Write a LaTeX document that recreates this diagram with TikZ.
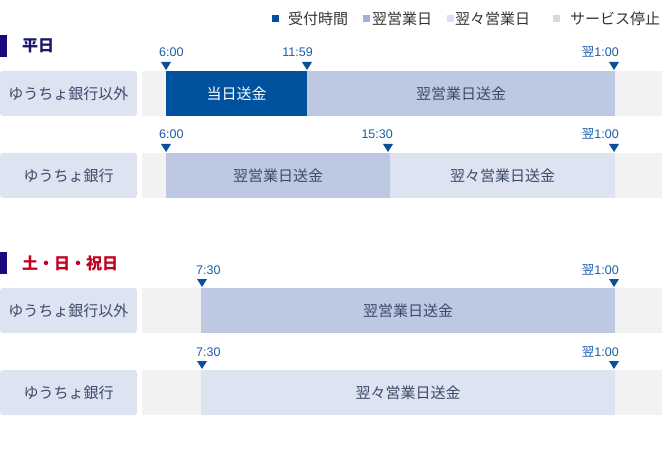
\documentclass[tikz,border=0pt]{standalone}
\usepackage{fontspec}
\setmainfont{Noto Sans CJK JP}
\newfontfamily\tnum{Liberation Sans}
\definecolor{accblue}{HTML}{00519E}
\definecolor{nextday}{HTML}{BDC8E2}
\definecolor{nextday2}{HTML}{DEE3F1}
\definecolor{bandgray}{HTML}{F2F2F2}
\definecolor{labfill}{HTML}{DDE3F1}
\definecolor{labtxt}{HTML}{3C4A6B}
\definecolor{markblue}{HTML}{0B4F9B}
\definecolor{timeblue}{HTML}{1C5BA5}
\definecolor{hdrbar}{HTML}{1A0A7E}
\definecolor{hdrnavy}{HTML}{1A1670}
\definecolor{hdrred}{HTML}{C0001E}
\definecolor{legtxt}{HTML}{333333}
\definecolor{legA}{HTML}{00519E}
\definecolor{legB}{HTML}{A3B1D9}
\definecolor{legC}{HTML}{DDE2F3}
\definecolor{legD}{HTML}{D9D9D9}
\tikzset{
  labbox/.style={fill=labfill, rounded corners=3pt},
  labtext/.style={text=labtxt, font=\fontsize{15}{18}\selectfont, inner sep=0pt},
  bartext/.style={text=labtxt, font=\fontsize{15}{18}\selectfont, inner sep=0pt},
  timetext/.style={text=timeblue, font=\fontsize{12.5}{14}\selectfont\tnum, inner sep=0pt},
  hdrtext/.style={font=\fontsize{16}{19}\selectfont\bfseries, inner sep=0pt, anchor=west},
  legtext/.style={text=legtxt, font=\fontsize{15}{18}\selectfont, inner sep=0pt, anchor=west},
}
\newcommand\tmark[2]{\fill[markblue] ({#1-5},{#2-9}) -- ({#1+5},{#2-9}) -- (#1,{#2-1}) -- cycle;}
\newcommand\yoku{{\fontsize{12.5}{14}\rmfamily 翌}}
\begin{document}
\begin{tikzpicture}[x=1pt,y=-1pt]
\useasboundingbox (0,0) rectangle (664,449);
% legend
\fill[legA] (272,15) rectangle (279,22);
\node[legtext] (lA) at (288,19) {受付時間};
\fill[legB] (363,15) rectangle (370,22);
\node[legtext] (lB) at (372,19) {翌営業日};
\fill[legC] (447,15) rectangle (454,22);
\node[legtext] (lC) at (455,19) {翌々営業日};
\fill[legD] (553,15) rectangle (560,22);
\node[legtext] (lD) at (570,19) {サービス停止};
% header 1
\fill[hdrbar] (0,35) rectangle (7,57);
\node[hdrtext, text=hdrnavy] (h1) at (22,46) {平日};
% row 1
\fill[labbox] (0,71) rectangle (137,116);
\node[labtext] (r1l) at (68.5,93.5) {ゆうちょ銀行以外};
\fill[bandgray] (142,71) rectangle (662,116);
\fill[accblue] (166,71) rectangle (307,116);
\fill[nextday] (307,71) rectangle (615,116);
\node[bartext, text=white] (r1a) at (236.5,93.5) {当日送金};
\node[bartext] (r1b) at (461,93.5) {翌営業日送金};
\tmark{166}{71}\tmark{307}{71}\tmark{614}{71}
\node[timetext, anchor=base west] (t11) at (159,57) {6:00};
\node[timetext, anchor=base east] (t12) at (313,57) {11:59};
\node[timetext, anchor=base east] (t13) at (619,57) {\yoku 1:00};
% row 2
\fill[labbox] (0,153) rectangle (137,198);
\node[labtext] (r2l) at (68.5,175.5) {ゆうちょ銀行};
\fill[bandgray] (142,153) rectangle (662,198);
\fill[nextday] (166,153) rectangle (390,198);
\fill[nextday2] (390,153) rectangle (615,198);
\node[bartext] (r2a) at (278,175.5) {翌営業日送金};
\node[bartext] (r2b) at (502.5,175.5) {翌々営業日送金};
\tmark{166}{153}\tmark{388}{153}\tmark{614}{153}
\node[timetext, anchor=base west] (t21) at (159,139) {6:00};
\node[timetext, anchor=base east] (t22) at (393,139) {15:30};
\node[timetext, anchor=base east] (t23) at (619,139) {\yoku 1:00};
% header 2
\fill[hdrbar] (0,252) rectangle (7,274);
\node[hdrtext, text=hdrred] (h2) at (22,263) {土・日・祝日};
% row 3
\fill[labbox] (0,288) rectangle (137,333);
\node[labtext] (r3l) at (68.5,310.5) {ゆうちょ銀行以外};
\fill[bandgray] (142,288) rectangle (662,333);
\fill[nextday] (201,288) rectangle (615,333);
\node[bartext] (r3a) at (408,310.5) {翌営業日送金};
\tmark{202}{288}\tmark{614}{288}
\node[timetext, anchor=base west] (t31) at (196,274) {7:30};
\node[timetext, anchor=base east] (t32) at (619,274) {\yoku 1:00};
% row 4
\fill[labbox] (0,370) rectangle (137,415);
\node[labtext] (r4l) at (68.5,392.5) {ゆうちょ銀行};
\fill[bandgray] (142,370) rectangle (662,415);
\fill[nextday2] (201,370) rectangle (615,415);
\node[bartext] (r4a) at (408,392.5) {翌々営業日送金};
\tmark{202}{370}\tmark{614}{370}
\node[timetext, anchor=base west] (t41) at (196,356) {7:30};
\node[timetext, anchor=base east] (t42) at (619,356) {\yoku 1:00};
\end{tikzpicture}
\end{document}
